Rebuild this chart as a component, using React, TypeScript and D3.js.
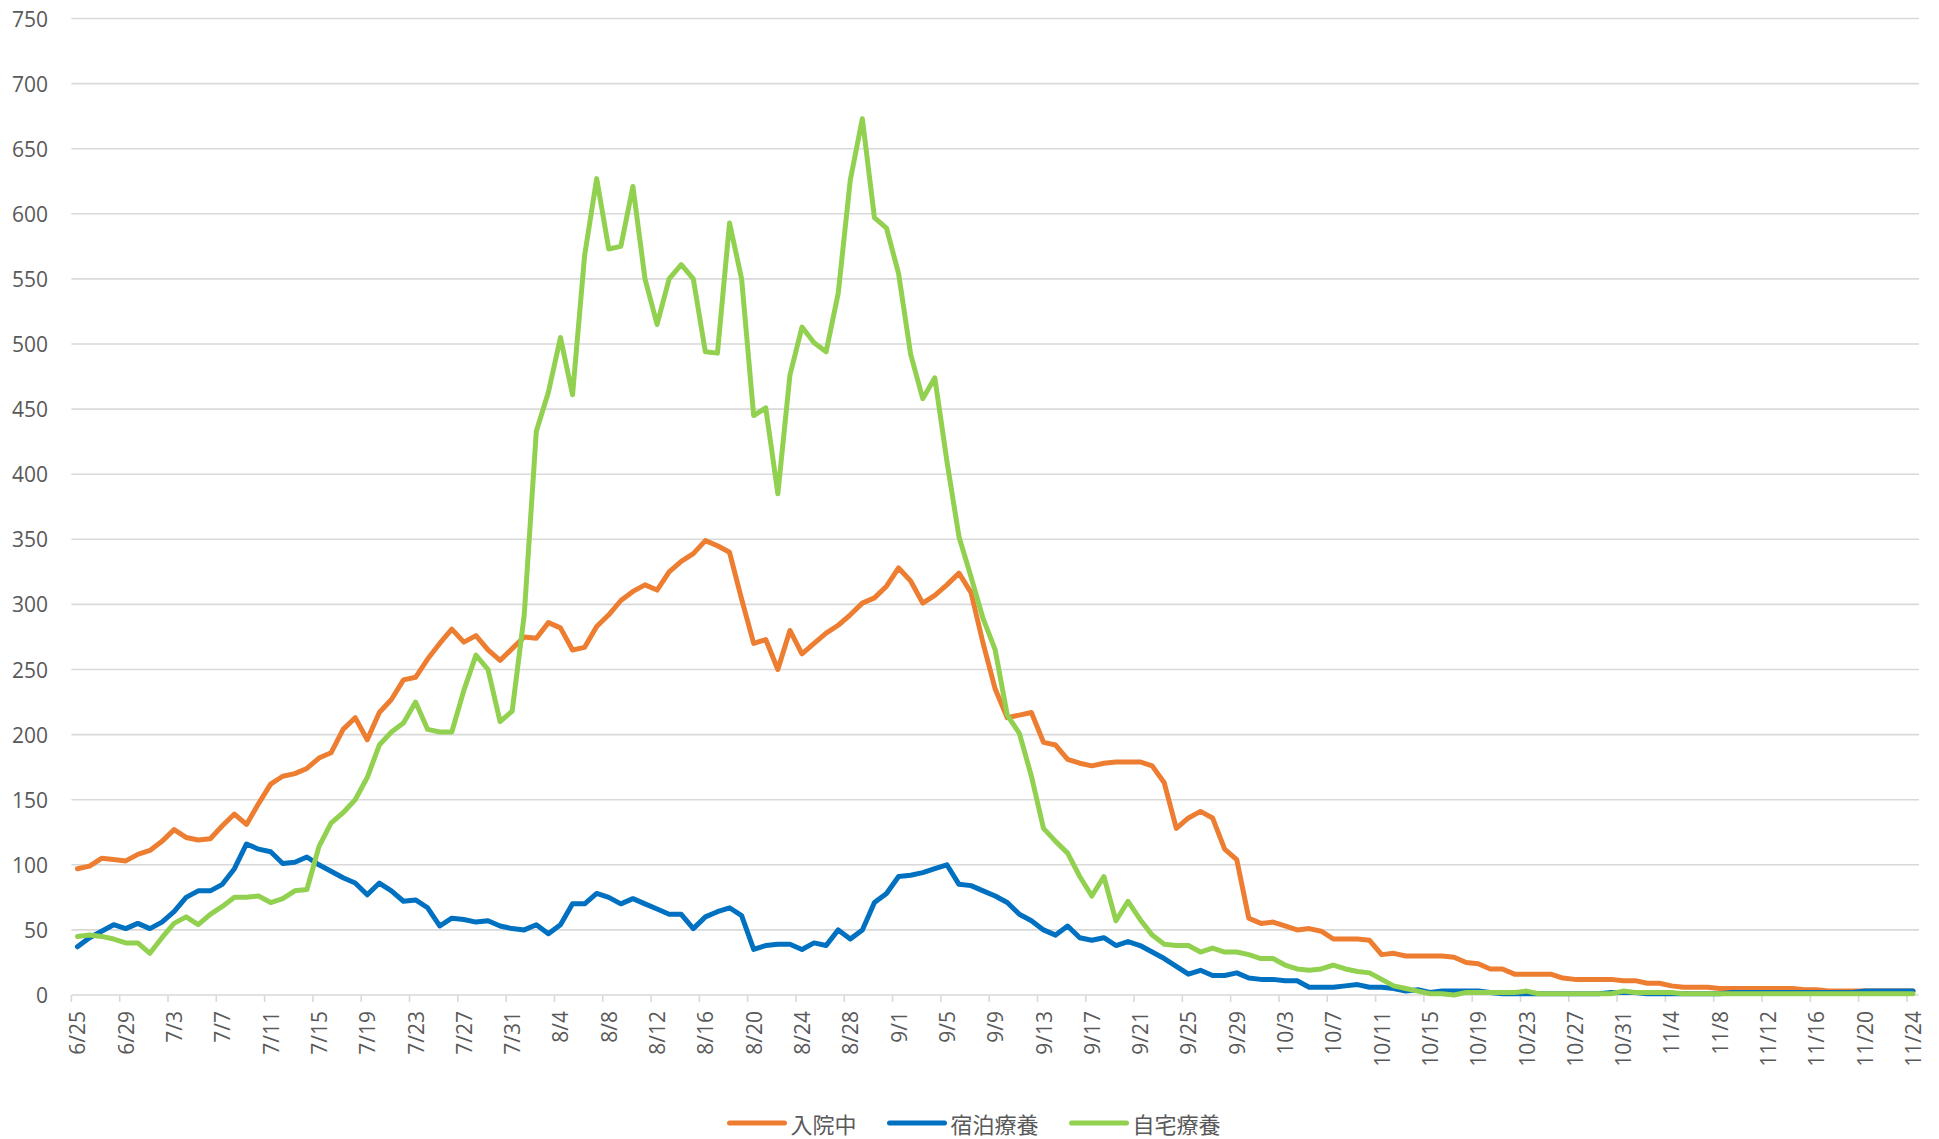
import React from "react";
import * as d3 from "d3";

// 6/25 .. 11/24, one category per day
const startDate = new Date(2021, 5, 25);
const endDate = new Date(2021, 10, 25);
const dates = d3.timeDay.range(startDate, endDate);
const categories = dates.map((d) => `${d.getMonth() + 1}/${d.getDate()}`);

const yTicks = [0, 50, 100, 150, 200, 250, 300, 350, 400, 450, 500, 550, 600, 650, 700, 750];

// 入院中
const hospitalized = [
  97, 99, 105, 104, 103, 108, 111, 118, 127, 121, 119, 120, 130, 139, 131, 147, 162, 168, 170, 174,
  182, 186, 204, 213, 196, 217, 227, 242, 244, 258, 270, 281, 271, 276, 265, 257, 266, 275, 274, 286,
  282, 265, 267, 283, 292, 303, 310, 315, 311, 325, 333, 339, 349, 345, 340, 304, 270, 273, 250, 280,
  262, 270, 278, 284, 292, 301, 305, 314, 328, 318, 301, 307, 315, 324, 309, 270, 235, 213, 215, 217,
  194, 192, 181, 178, 176, 178, 179, 179, 179, 176, 163, 128, 136, 141, 136, 112, 104, 59, 55, 56,
  53, 50, 51, 49, 43, 43, 43, 42, 31, 32, 30, 30, 30, 30, 29, 25, 24, 20, 20, 16,
  16, 16, 16, 13, 12, 12, 12, 12, 11, 11, 9, 9, 7, 6, 6, 6, 5, 5, 5, 5,
  5, 5, 5, 4, 4, 3, 3, 3, 3, 3, 3, 3, 3,
];

// 宿泊療養
const hotel = [
  37, 44, 49, 54, 51, 55, 51, 56, 64, 75, 80, 80, 85, 97, 116, 112, 110, 101, 102, 106,
  100, 95, 90, 86, 77, 86, 80, 72, 73, 67, 53, 59, 58, 56, 57, 53, 51, 50, 54, 47,
  54, 70, 70, 78, 75, 70, 74, 70, 66, 62, 62, 51, 60, 64, 67, 61, 35, 38, 39, 39,
  35, 40, 38, 50, 43, 50, 71, 78, 91, 92, 94, 97, 100, 85, 84, 80, 76, 71, 62, 57,
  50, 46, 53, 44, 42, 44, 38, 41, 38, 33, 28, 22, 16, 19, 15, 15, 17, 13, 12, 12,
  11, 11, 6, 6, 6, 7, 8, 6, 6, 5, 3, 4, 2, 3, 3, 3, 3, 2, 1, 1,
  1, 1, 1, 1, 1, 1, 1, 2, 2, 2, 1, 1, 1, 1, 1, 1, 1, 2, 2, 2,
  2, 2, 2, 2, 2, 2, 2, 2, 3, 3, 3, 3, 3,
];

// 自宅療養
const home = [
  45, 46, 45, 43, 40, 40, 32, 44, 55, 60, 54, 62, 68, 75, 75, 76, 71, 74, 80, 81,
  114, 132, 140, 150, 167, 192, 202, 209, 225, 204, 202, 202, 234, 261, 250, 210, 218, 292, 433, 463,
  505, 461, 568, 627, 573, 575, 621, 550, 515, 550, 561, 550, 494, 493, 593, 550, 445, 451, 385, 476,
  513, 501, 494, 539, 626, 673, 597, 589, 554, 492, 458, 474, 410, 352, 321, 289, 265, 215, 201, 168,
  128, 118, 109, 91, 76, 91, 57, 72, 58, 46, 39, 38, 38, 33, 36, 33, 33, 31, 28, 28,
  23, 20, 19, 20, 23, 20, 18, 17, 12, 7, 5, 3, 1, 1, 0, 2, 2, 2, 2, 2,
  3, 1, 1, 1, 1, 1, 1, 1, 3, 2, 2, 2, 2, 1, 1, 1, 1, 1, 1, 1,
  1, 1, 1, 1, 1, 1, 1, 1, 1, 1, 1, 1, 1,
];

const seriesNames = ["入院中", "宿泊療養", "自宅療養"];
const seriesColors = ["#ED7D31", "#0070C0", "#92D050"];
const seriesValues = [hospitalized, hotel, home];

const W = 1939;
const H = 1139;
const plot = { left: 71.4, right: 1919, top: 18.5, bottom: 995 };
const textColor = "#595959";
const gridColor = "#d9d9d9";
const numFont = "'Open Sans', 'Noto Sans', sans-serif";
const jpFont = "'Noto Sans CJK JP', 'Noto Sans', sans-serif";
const strokeW = 5;

export default function App() {
  const x = d3
    .scaleBand<number>()
    .domain(d3.range(categories.length))
    .range([plot.left, plot.right])
    .padding(0);
  const bw = x.bandwidth();
  const cx = (i: number) => (x(i) as number) + bw / 2;
  const y = d3.scaleLinear().domain([0, 750]).range([plot.bottom, plot.top]);

  const line = d3
    .line<number>()
    .x((_d, i) => cx(i))
    .y((d) => y(d));

  const labelIdx = d3.range(0, categories.length, 4);
  const tickIdx = d3.range(0, categories.length + 1, 4);

  // legend layout
  const legFont = 22;
  const lineLen = 55;
  const legGap = 6;
  const itemGap = 33;
  const itemWidths = seriesNames.map((n) => lineLen + legGap + n.length * legFont);
  const legTotal = d3.sum(itemWidths) + itemGap * (seriesNames.length - 1);
  let legX = 975 - legTotal / 2;
  const legY = 1123;
  const legItems = seriesNames.map((n, i) => {
    const item = { name: n, color: seriesColors[i], x: legX };
    legX += itemWidths[i] + itemGap;
    return item;
  });

  return (
    <svg
      width={W}
      height={H}
      style={{ position: "absolute", left: 0, top: 0, background: "#fff" }}
    >
      <rect width={W} height={H} fill="#fff" />
      {/* gridlines */}
      <g>
        {yTicks.map((t) => (
          <line
            key={t}
            x1={plot.left}
            x2={plot.right}
            y1={y(t)}
            y2={y(t)}
            stroke={gridColor}
            strokeWidth={1.6}
          />
        ))}
      </g>
      {/* y labels */}
      <g fontFamily={numFont} fontSize={21} fill={textColor}>
        {yTicks.map((t) => (
          <text key={t} x={48} y={y(t)} textAnchor="end" dominantBaseline="central">
            {t}
          </text>
        ))}
      </g>
      {/* x ticks */}
      <g>
        {tickIdx.map((i) => {
          const xx = i < categories.length ? (x(i) as number) : plot.right;
          return (
            <line key={i} x1={xx} x2={xx} y1={plot.bottom} y2={plot.bottom + 7} stroke={gridColor} strokeWidth={1.6} />
          );
        })}
      </g>
      {/* x labels */}
      <g fontFamily={numFont} fontSize={21} fill={textColor}>
        {labelIdx.map((i) => (
          <text
            key={i}
            transform={`translate(${cx(i)},${plot.bottom + 16}) rotate(-90)`}
            textAnchor="end"
            dominantBaseline="central"
          >
            {categories[i]}
          </text>
        ))}
      </g>
      {/* series */}
      <g fill="none" strokeWidth={strokeW} strokeLinejoin="round" strokeLinecap="round">
        {seriesValues.map((vals, k) => (
          <path key={k} d={line(vals) || ""} stroke={seriesColors[k]} />
        ))}
      </g>
      {/* legend */}
      <g fontFamily={jpFont} fontSize={legFont} fill={textColor}>
        {legItems.map((it) => (
          <g key={it.name}>
            <line
              x1={it.x}
              x2={it.x + lineLen}
              y1={legY}
              y2={legY}
              stroke={it.color}
              strokeWidth={strokeW}
              strokeLinecap="round"
            />
            <text x={it.x + lineLen + legGap} y={legY} dominantBaseline="central">
              {it.name}
            </text>
          </g>
        ))}
      </g>
    </svg>
  );
}
